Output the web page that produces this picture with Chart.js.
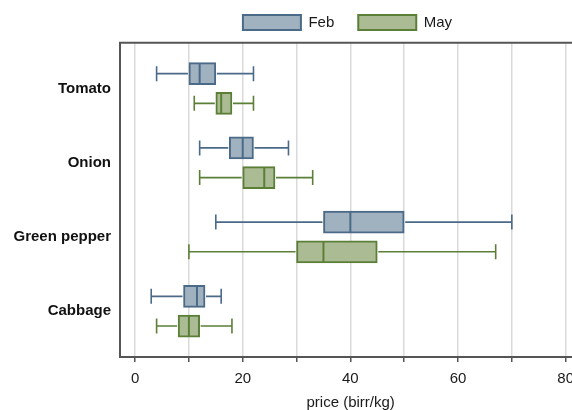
<!DOCTYPE html>
<html>
<head>
<meta charset="utf-8">
<script src="https://cdn.jsdelivr.net/npm/chart.js@4/dist/chart.umd.min.js"></script>
<style>
  html, body { margin: 0; padding: 0; background: #fff; overflow: hidden; }
  #wrap { width: 583px; height: 410px; }
</style>
</head>
<body>
<div id="wrap"><canvas id="boxChart" width="583" height="410"></canvas></div>
<script>
// categories, top to bottom
const categories = ["Tomato", "Onion", "Green pepper", "Cabbage"];
const xTicks = [0, 10, 20, 30, 40, 50, 60, 70, 80];
const xTickLabels = ["0", "", "20", "", "40", "", "60", "", "80"];

// Feb prices (birr/kg)
const febMin = [4, 12, 15, 3];
const febQ1 = [10, 17.5, 35, 9];
const febMed = [12, 20, 40, 11.5];
const febQ3 = [15, 22, 50, 13];
const febMax = [22, 28.5, 70, 16];

// May prices (birr/kg)
const mayMin = [11, 12, 10, 4];
const mayQ1 = [15, 20, 30, 8];
const mayMed = [16, 24, 35, 10];
const mayQ3 = [18, 26, 45, 12];
const mayMax = [22, 33, 67, 18];

const febFill = "#a0b1bf", febLine = "#4b6a88";
const mayFill = "#abbb94", mayLine = "#5c7f38";

Chart.defaults.font.family = "'Liberation Sans', Arial, sans-serif";
Chart.defaults.font.size = 15;
Chart.defaults.color = "#1a1a1a";

// one box series -> floating bar data on the linear category axis
function box_data(q1, q3, offset) {
    return q1.map((v, i) => ({ x: [v, q3[i]], y: i + 1 + offset }));
}

const series = [
    { min: febMin, q1: febQ1, med: febMed, q3: febQ3, max: febMax, offset: -0.2, color: febLine },
    { min: mayMin, q1: mayQ1, med: mayMed, q3: mayQ3, max: mayMax, offset: 0.2, color: mayLine }
];

// whiskers, caps, medians, the top frame line and legend placement
const whiskerPlugin = {
    id: "whiskers",
    beforeInit(chart) {
        const legend = chart.legend;
        const fit = legend.fit;
        legend.fit = function () { fit.call(this); this.height += 2.7; };
    },
    afterLayout(chart) {
        // centre the legend over the plot area, not the whole canvas
        chart.legend.left = chart.chartArea.left - 8;
    },
    afterDatasetsDraw(chart) {
        const ctx = chart.ctx, x = chart.scales.x, y = chart.scales.y;
        ctx.save();
        series.forEach((s) => {
            ctx.strokeStyle = s.color;
            s.min.forEach((lo, i) => {
                const py = y.getPixelForValue(i + 1 + s.offset);
                const xLo = x.getPixelForValue(lo), xHi = x.getPixelForValue(s.max[i]);
                const xQ1 = x.getPixelForValue(s.q1[i]), xQ3 = x.getPixelForValue(s.q3[i]);
                const xMed = x.getPixelForValue(s.med[i]);
                ctx.lineWidth = 1.6;
                ctx.beginPath();
                ctx.moveTo(xLo, py); ctx.lineTo(xQ1 - 1, py);
                ctx.moveTo(xQ3 + 1, py); ctx.lineTo(xHi, py);
                ctx.moveTo(xLo, py - 7.5); ctx.lineTo(xLo, py + 7.5);
                ctx.moveTo(xHi, py - 7.5); ctx.lineTo(xHi, py + 7.5);
                ctx.stroke();
                ctx.lineWidth = 2;
                ctx.beginPath();
                ctx.moveTo(xMed, py - 10.5); ctx.lineTo(xMed, py + 10.5);
                ctx.stroke();
            });
        });
        const a = chart.chartArea;
        ctx.strokeStyle = "#555";
        ctx.lineWidth = 2;
        ctx.beginPath();
        ctx.moveTo(a.left - 1, a.top); ctx.lineTo(a.right, a.top);
        ctx.stroke();
        ctx.restore();
    }
};

new Chart("boxChart", {
    type: "bar",
    data: {
        datasets: [
            { label: "Feb", data: box_data(febQ1, febQ3, -0.2), backgroundColor: febFill, borderColor: febLine, borderWidth: 2, borderSkipped: false },
            { label: "May", data: box_data(mayQ1, mayQ3, 0.2), backgroundColor: mayFill, borderColor: mayLine, borderWidth: 2, borderSkipped: false }
        ]
    },
    options: {
        responsive: false,
        animation: false,
        indexAxis: "y",
        grouped: false,
        barThickness: 22,
        layout: { padding: { left: 0, right: 0, top: -9, bottom: 0 } },
        plugins: {
            tooltip: { enabled: false },
            legend: {
                position: "top",
                labels: { boxWidth: 58, boxHeight: 15, padding: 24, font: { size: 15 }, color: "#1a1a1a" }
            }
        },
        scales: {
            x: {
                type: "linear",
                min: -2.8,
                max: 82.9,
                afterBuildTicks: (scale) => { scale.ticks = xTicks.map(v => ({ value: v })); },
                ticks: {
                    padding: 9,
                    maxRotation: 0,
                    autoSkip: false,
                    font: { size: 15, lineHeight: 1 },
                    callback: (v, i) => xTickLabels[i]
                },
                grid: { color: "#dadada", lineWidth: 1.5, tickLength: 5, tickColor: "#555", tickWidth: 1.5 },
                border: { color: "#555", width: 2 },
                title: { display: true, text: "price (birr/kg)", font: { size: 15, lineHeight: 1 }, padding: { top: 0, bottom: 0 } }
            },
            y: {
                type: "linear",
                reverse: true,
                offset: false,
                min: 0.383,
                max: 4.617,
                afterBuildTicks: (scale) => { scale.ticks = categories.map((c, i) => ({ value: i + 1 })); },
                afterFit: (scale) => { scale.width = 120; },
                ticks: {
                    padding: 9,
                    font: { size: 15, weight: "bold" },
                    color: "#111",
                    callback: (v) => categories[v - 1]
                },
                grid: { display: false, drawTicks: false, offset: false },
                border: { color: "#555", width: 2 }
            }
        }
    },
    plugins: [whiskerPlugin]
});
</script>
</body>
</html>
